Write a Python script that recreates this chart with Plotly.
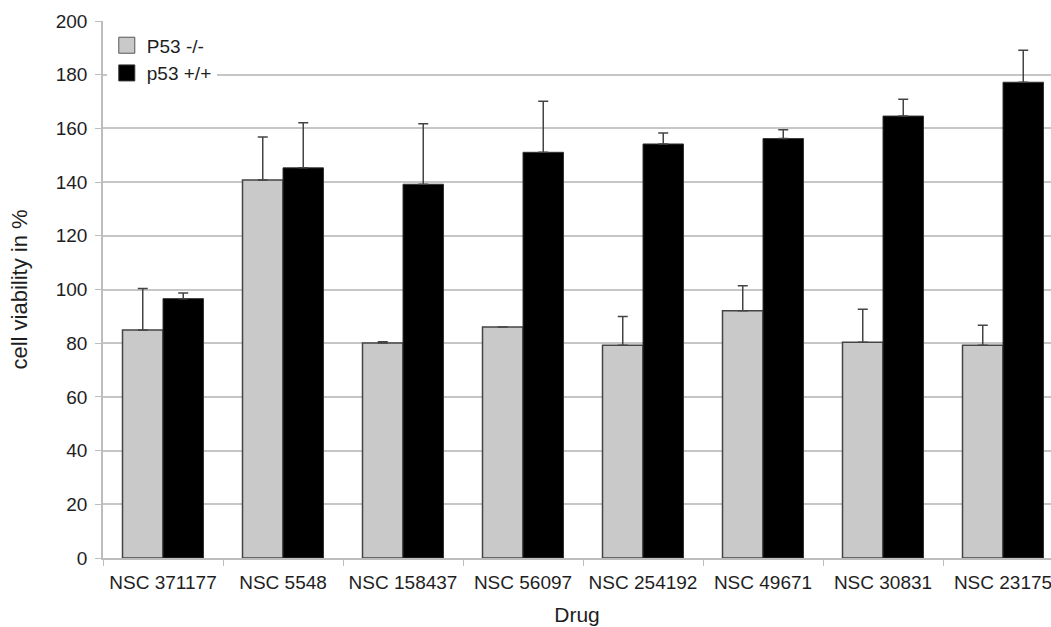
import plotly.graph_objects as go

# Drug screen: cell viability for p53-deficient vs p53 wild-type cells
drugs = ["NSC 371177", "NSC 5548", "NSC 158437", "NSC 56097",
         "NSC 254192", "NSC 49671", "NSC 30831", "NSC 23175"]

p53_null = [84.9, 140.8, 80.1, 86.0, 79.2, 92.1, 80.4, 79.2]
p53_null_err = [15.5, 16.0, 0.4, None, 10.7, 9.3, 12.2, 7.5]

p53_wt = [96.6, 145.3, 139.2, 151.1, 154.2, 156.2, 164.6, 177.2]
p53_wt_err = [2.1, 16.8, 22.5, 19.0, 4.1, 3.3, 6.3, 11.9]

y_ticks = [0, 20, 40, 60, 80, 100, 120, 140, 160, 180, 200]

FONT = "Liberation Sans, Arial, sans-serif"
TEXT = "#1e1e1e"
GRID = "#c6c6c6"
ERR = "#444444"


def up_only(errs):
    return [0 if e is not None else None for e in errs]


fig = go.Figure()

fig.add_trace(go.Bar(
    x=drugs, y=p53_null, name="P53 -/-", showlegend=False,
    marker=dict(color="#c9c9c9", line=dict(color="#444444", width=1.5)),
    error_y=dict(type="data", array=p53_null_err, arrayminus=up_only(p53_null_err),
                 symmetric=False, color=ERR, thickness=1.5, width=5),
))
fig.add_trace(go.Bar(
    x=drugs, y=p53_wt, name="p53 +/+", showlegend=False,
    marker=dict(color="#000000", line=dict(color="#333333", width=1)),
    error_y=dict(type="data", array=p53_wt_err, arrayminus=up_only(p53_wt_err),
                 symmetric=False, color=ERR, thickness=1.5, width=5),
))

# legend entries with larger square swatches
fig.add_trace(go.Scatter(
    x=[None], y=[None], mode="markers", name="P53 -/-",
    marker=dict(symbol="square", size=16, color="#c9c9c9",
                line=dict(color="#555555", width=1)),
))
fig.add_trace(go.Scatter(
    x=[None], y=[None], mode="markers", name="p53 +/+",
    marker=dict(symbol="square", size=16, color="#000000",
                line=dict(color="#333333", width=1)),
))

fig.update_layout(
    width=1051, height=627,
    margin=dict(l=103, r=0, t=21, b=69),
    paper_bgcolor="white", plot_bgcolor="white",
    font=dict(family=FONT, size=19, color=TEXT),
    barmode="group", bargap=0.325, bargroupgap=0,
    showlegend=True,
    legend=dict(x=0.004, y=0.99, xanchor="left", yanchor="top",
                bgcolor="white", font=dict(size=19, color=TEXT),
                itemwidth=30, tracegroupgap=0),
)

fig.update_xaxes(
    type="category", range=[-0.5, 7.4],
    showline=True, linecolor="#bdbdbd", linewidth=1.5,
    ticks="outside", tickson="boundaries", ticklen=6, tickcolor="#bdbdbd",
    tickfont=dict(size=19, color=TEXT), ticklabelstandoff=6,
    showgrid=False,
    title=dict(text="Drug", font=dict(size=21, color=TEXT), standoff=16),
)

fig.update_yaxes(
    range=[0, 200], tickvals=y_ticks,
    showline=True, linecolor="#bdbdbd", linewidth=1.5,
    ticks="outside", ticklen=6, tickcolor="#bdbdbd",
    tickfont=dict(size=19, color=TEXT), ticklabelstandoff=4,
    showgrid=True, gridcolor=GRID, gridwidth=1.5, zeroline=False,
    title=dict(text="cell viability in %", font=dict(size=22, color=TEXT), standoff=22),
)

fig.write_html("out.html")
